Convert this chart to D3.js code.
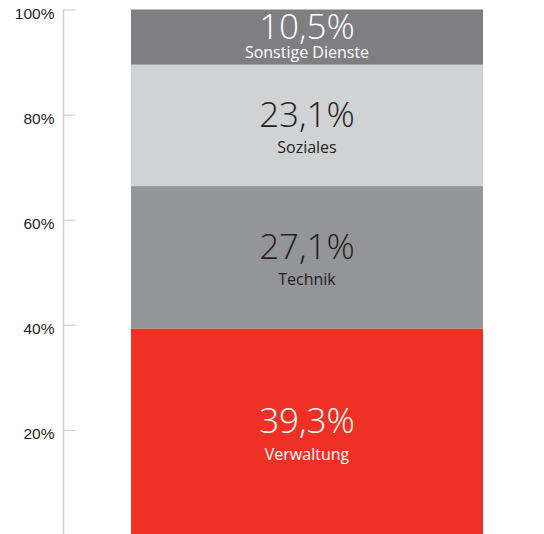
<!DOCTYPE html>
<html>
<head>
<meta charset="utf-8">
<script src="https://cdn.jsdelivr.net/npm/d3@7"></script>
<style>
  body { margin: 0; background: #fff; }
  svg { display: block; font-family: "Open Sans", sans-serif; }
</style>
</head>
<body>
<svg id="chart" width="544" height="534"></svg>
<script>
// Anteile nach Bereich (von unten nach oben)
var categories = ["Verwaltung", "Technik", "Soziales", "Sonstige Dienste"];
var shares = [39.3, 27.1, 23.1, 10.5];
var colors = ["#ee3124", "#939598", "#d1d2d4", "#7f7f83"];
var textColors = ["#ffffff", "#231f20", "#231f20", "#ffffff"];
var tickValues = [20, 40, 60, 80, 100];

var width = 544, height = 534;

var svg = d3.select("#chart");

var y = d3.scaleLinear()
    .domain([0, 100])
    .range([535, 9.5]);

var x = d3.scaleBand()
    .domain(["bar"])
    .range([131, 483])
    .padding(0);

// stacked data
var cum = 0;
var data = categories.map(function(c, i) {
    var d = {name: c, value: shares[i], y0: cum, y1: cum + shares[i], i: i};
    cum += shares[i];
    return d;
});

// axis
var yAxis = d3.axisRight(y)
    .tickValues(tickValues)
    .tickSize(12)
    .tickFormat(function(d) { return d + "%"; });

var axis = svg.append("g")
    .attr("class", "y axis")
    .attr("transform", "translate(63.5,0)")
    .call(yAxis);

axis.select(".domain").remove();
axis.append("line")
    .attr("x1", 0).attr("x2", 0)
    .attr("y1", y(100)).attr("y2", height)
    .attr("stroke", "#cfcfcf")
    .attr("stroke-width", 1.5);
axis.selectAll(".tick line")
    .attr("stroke", "#cfcfcf")
    .attr("stroke-width", 1.2);
axis.selectAll(".tick text")
    .attr("x", -9)
    .attr("dy", "0.55em")
    .style("text-anchor", "end")
    .style("font-size", "15.5px")
    .style("fill", "#231f20");

// bars
svg.selectAll(".seg")
    .data(data)
    .enter()
    .append("rect")
    .attr("class", "seg")
    .attr("x", x("bar"))
    .attr("width", x.bandwidth())
    .attr("y", function(d) { return y(d.y1); })
    .attr("height", function(d) { return y(d.y0) - y(d.y1); })
    .attr("fill", function(d) { return colors[d.i]; });

// labels
var fmt = function(v) { return d3.format(".1f")(v).replace(".", ",") + "%"; };

svg.selectAll(".pct")
    .data(data)
    .enter()
    .append("text")
    .attr("class", "pct")
    .attr("x", x("bar") + x.bandwidth() / 2)
    .attr("y", function(d) {
        var c = (y(d.y0) + y(d.y1)) / 2;
        return Math.min(c + 1.5, y(d.y0) - 26);
    })
    .style("text-anchor", "middle")
    .style("font-size", "35px")
    .style("font-weight", 300)
    .style("fill", function(d) { return textColors[d.i]; })
    .text(function(d) { return fmt(d.value); });

svg.selectAll(".lbl")
    .data(data)
    .enter()
    .append("text")
    .attr("class", "lbl")
    .attr("x", x("bar") + x.bandwidth() / 2)
    .attr("y", function(d) {
        var c = (y(d.y0) + y(d.y1)) / 2;
        return Math.min(c + 28, y(d.y0) - 7);
    })
    .style("text-anchor", "middle")
    .style("font-size", "16px")
    .style("fill", function(d) { return textColors[d.i]; })
    .text(function(d) { return d.name; });
</script>
</body>
</html>
